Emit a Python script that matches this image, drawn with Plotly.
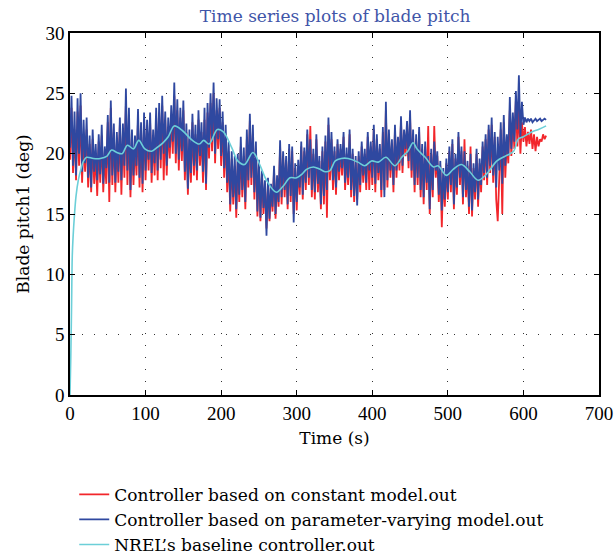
import plotly.graph_objects as go

# ---- data ----
step_s = 2  # sampling step of the pitch series, seconds

pitch_constant = [
    19.5, 23.8, 18.4, 22.0, 17.8, 23.5, 19.0, 24.0, 17.6, 21.5,
    18.5, 22.0, 17.2, 20.8, 16.8, 21.2, 17.5, 20.0, 16.5, 21.0,
    17.6, 21.5, 16.8, 19.8, 17.5, 22.6, 16.0, 23.8, 17.4, 21.8,
    16.8, 21.0, 17.6, 22.4, 16.6, 21.8, 18.0, 24.2, 17.4, 22.6,
    16.4, 21.2, 17.4, 20.8, 18.2, 22.8, 17.2, 21.8, 16.8, 22.6,
    17.8, 22.0, 18.6, 22.6, 17.6, 21.4, 18.2, 23.0, 17.8, 23.4,
    18.8, 24.0, 17.8, 22.8, 18.2, 22.2, 19.6, 23.2, 20.0, 24.8,
    19.2, 23.6, 18.6, 23.0, 19.4, 23.6, 17.8, 21.8, 16.6, 21.2,
    17.6, 22.6, 18.2, 21.6, 17.8, 22.8, 19.0, 21.8, 17.6, 22.8,
    17.0, 23.4, 19.6, 24.2, 20.2, 25.0, 19.2, 23.6, 20.4, 23.8,
    19.0, 22.6, 18.0, 21.6, 16.8, 20.2, 15.2, 19.6, 15.8, 19.0,
    14.7, 19.4, 16.0, 20.6, 16.4, 19.8, 15.4, 21.2, 17.2, 22.7,
    17.4, 21.6, 16.2, 20.4, 14.8, 19.0, 14.4, 18.2, 15.0, 17.4,
    13.8, 17.6, 14.4, 17.0, 15.2, 18.6, 14.6, 17.8, 15.6, 20.6,
    15.8, 19.8, 16.4, 19.4, 15.4, 20.4, 16.0, 20.2, 15.0, 18.8,
    15.3, 19.0, 16.6, 20.6, 16.2, 20.2, 17.0, 21.6, 17.4, 22.3,
    16.4, 20.0, 16.2, 21.2, 16.8, 19.4, 15.4, 20.2, 15.8, 21.0,
    14.7, 22.4, 17.8, 21.2, 17.0, 20.2, 16.6, 20.8, 17.8, 20.4,
    18.2, 21.4, 17.0, 20.0, 17.4, 21.6, 16.4, 20.0, 16.0, 19.4,
    16.2, 19.8, 16.8, 20.6, 17.6, 20.0, 17.0, 21.4, 17.0, 20.6,
    17.4, 22.0, 16.8, 21.2, 17.8, 20.4, 16.4, 21.8, 17.0, 23.6,
    17.2, 21.6, 18.0, 20.8, 16.8, 22.0, 18.0, 21.0, 18.6, 22.6,
    18.4, 21.6, 19.8, 22.2, 18.8, 23.0, 18.0, 21.6, 16.8, 21.2,
    17.4, 21.8, 16.4, 20.4, 15.8, 20.6, 17.0, 22.3, 15.0, 20.0,
    16.4, 22.3, 18.0, 19.8, 16.0, 19.0, 13.9, 18.4, 15.6, 19.2,
    16.2, 20.2, 16.8, 20.8, 15.4, 19.6, 16.6, 21.4, 17.4, 20.2,
    15.8, 21.2, 16.4, 19.0, 15.0, 20.6, 14.8, 18.8, 16.2, 20.0,
    15.6, 19.2, 16.8, 20.6, 17.8, 21.2, 17.4, 22.0, 18.4, 22.4,
    17.6, 21.4, 16.2, 14.4, 18.0, 22.0, 15.0, 22.6, 18.0, 21.0,
    19.2, 23.6, 19.8, 22.8, 20.4, 24.4, 20.6, 23.8, 20.0, 22.6,
    21.0, 22.2, 20.6, 21.8, 20.8, 22.0, 20.4, 21.6, 20.2, 21.4,
    20.6, 21.2, 21.0, 21.6, 21.2, 21.5,
]

pitch_varying = [
    20.5, 24.8, 19.0, 23.5, 18.2, 24.6, 20.0, 25.0, 18.5, 22.8,
    19.2, 23.0, 18.0, 21.5, 17.2, 22.0, 18.5, 20.8, 17.8, 21.6,
    18.3, 22.4, 17.5, 20.6, 18.8, 23.2, 17.6, 24.4, 18.2, 22.5,
    17.6, 21.8, 18.5, 23.0, 17.8, 22.5, 19.0, 25.4, 18.6, 23.8,
    17.0, 22.0, 18.2, 21.5, 19.0, 23.7, 18.0, 22.6, 17.5, 23.4,
    18.6, 22.8, 19.5, 23.4, 18.4, 22.0, 19.2, 23.8, 18.6, 24.2,
    19.5, 24.8, 20.0, 23.5, 19.0, 23.0, 20.5, 24.0, 21.0, 25.9,
    20.0, 24.5, 19.5, 23.8, 20.2, 24.4, 18.5, 22.5, 17.1, 22.0,
    18.4, 23.3, 19.0, 22.4, 18.6, 23.6, 19.8, 22.6, 18.5, 23.8,
    17.5, 24.2, 20.5, 25.0, 21.0, 25.9, 20.0, 24.6, 21.2, 24.5,
    19.8, 23.5, 18.8, 22.4, 17.6, 21.0, 15.8, 20.2, 16.4, 19.8,
    15.4, 20.0, 16.6, 21.4, 17.0, 20.5, 16.0, 22.0, 17.8, 23.3,
    18.0, 22.4, 16.8, 21.0, 15.2, 19.5, 14.7, 18.6, 15.5, 17.8,
    13.2, 18.0, 14.6, 17.5, 15.6, 19.0, 15.0, 18.2, 16.0, 21.1,
    16.4, 20.2, 17.0, 19.8, 15.8, 20.8, 16.5, 20.6, 14.3, 19.2,
    16.0, 19.5, 17.2, 21.0, 16.6, 20.5, 17.6, 22.0, 18.0, 21.2,
    17.0, 20.4, 16.8, 21.6, 17.5, 19.8, 15.8, 20.6, 16.5, 21.5,
    17.0, 23.0, 18.6, 21.8, 17.8, 20.6, 17.2, 21.2, 18.5, 20.8,
    18.8, 21.8, 17.6, 20.5, 18.0, 22.0, 17.0, 20.4, 16.5, 19.8,
    15.7, 20.2, 17.4, 21.0, 18.2, 20.4, 17.6, 21.8, 18.6, 21.0,
    18.0, 22.4, 17.5, 21.6, 18.4, 20.8, 17.0, 22.2, 16.4, 24.3,
    17.8, 22.0, 18.6, 21.2, 17.4, 22.4, 18.6, 21.4, 19.2, 23.1,
    19.0, 22.0, 20.4, 22.7, 19.4, 23.6, 18.6, 22.0, 17.4, 21.6,
    18.0, 22.2, 17.0, 20.8, 16.4, 21.0, 17.6, 19.8, 15.4, 20.4,
    17.0, 21.0, 18.6, 20.2, 16.6, 19.4, 15.3, 18.8, 16.2, 19.6,
    16.8, 20.6, 17.4, 21.2, 15.8, 20.0, 17.2, 21.8, 18.0, 20.6,
    16.4, 20.2, 17.0, 19.4, 15.6, 20.0, 15.3, 19.2, 16.8, 20.4,
    16.2, 19.6, 17.4, 21.0, 18.4, 21.6, 18.0, 22.4, 19.0, 23.0,
    18.2, 21.8, 17.2, 21.4, 18.6, 22.6, 17.5, 23.2, 19.0, 21.6,
    19.8, 24.7, 20.4, 23.4, 21.0, 25.2, 22.0, 26.5, 21.4, 24.3,
    22.4, 23.0, 22.6, 22.9, 22.7, 22.9, 22.6, 22.8, 22.9, 22.7,
    22.8, 22.9, 22.7, 22.8, 22.9, 22.8,
]

baseline_t = [0, 1, 2, 3, 4, 6, 8, 11, 14, 18, 22, 31, 40, 49, 55, 62, 69, 76, 84, 91,
              99, 108, 115, 123, 130, 138, 149, 162, 171, 177, 184, 195, 203, 214, 222,
              231, 242, 251, 260, 273, 282, 291, 300, 307, 313, 322, 331, 338, 344, 351,
              359, 368, 381, 390, 399, 408, 418, 430, 439, 447, 454, 459, 470, 481, 487,
              498, 507, 518, 529, 540, 551, 565, 576, 587, 593, 600, 611, 620, 630]
baseline_v = [0, 3, 7, 11.5, 13, 15, 16.5, 17.8, 18.6, 19.4, 19.7, 19.6, 19.6, 19.8, 20.3,
              20.1, 20.0, 20.7, 20.4, 21.1, 20.4, 20.2, 20.5, 20.9, 21.4, 22.3, 21.9, 21.1,
              20.8, 21.1, 20.8, 22.0, 21.8, 20.5, 19.4, 19.1, 20.1, 19.1, 17.8, 16.8, 17.3,
              18.0, 18.0, 18.3, 18.7, 18.9, 18.7, 18.5, 18.6, 19.4, 19.6, 19.6, 19.3, 19.0,
              19.4, 19.3, 19.7, 19.0, 19.7, 20.2, 20.9, 20.4, 19.7, 18.9, 19.0, 18.2, 18.7,
              19.1, 18.5, 17.8, 18.3, 19.4, 19.8, 20.2, 21.2, 21.4, 21.8, 22.0, 22.3]

x_ticks = [0, 100, 200, 300, 400, 500, 600, 700]
y_ticks = [0, 5, 10, 15, 20, 25, 30]

names = ["Controller based on constant model.out",
         "Controller based on parameter-varying model.out",
         "NREL\u2019s baseline controller.out"]

t_constant = [i * step_s for i in range(len(pitch_constant))]
t_varying = [i * step_s for i in range(len(pitch_varying))]

TICKFONT = "Liberation Serif"
TEXTFONT = "DejaVu Serif"

fig = go.Figure()
fig.add_trace(go.Scatter(x=t_constant, y=pitch_constant, mode="lines", name=names[0],
                         line=dict(color="#F2262B", width=1.8)))
fig.add_trace(go.Scatter(x=t_varying, y=pitch_varying, mode="lines", name=names[1],
                         line=dict(color="#2F48A0", width=1.8)))
fig.add_trace(go.Scatter(x=baseline_t, y=baseline_v, mode="lines", name=names[2],
                         line=dict(color="#6CCFD8", width=1.6, shape="spline")))

axis_common = dict(
    showline=True, linecolor="black", linewidth=1.5, mirror="ticks",
    ticks="inside", ticklen=5, tickcolor="black", tickwidth=1,
    showgrid=True, gridcolor="#333333", gridwidth=1, griddash="1px,11px",
    zeroline=False, tickfont=dict(family=TICKFONT, size=19, color="black"),
)

fig.update_layout(
    width=615, height=558,
    margin=dict(l=70, r=16, t=33, b=163, autoexpand=False),
    paper_bgcolor="white", plot_bgcolor="white",
    font=dict(family=TEXTFONT, color="black", size=17),
    title=dict(text="Time series plots of blade pitch", x=0.545, xanchor="center",
               y=0.972, yanchor="middle",
               font=dict(family=TEXTFONT, size=17, color="#3F55A8")),
    xaxis=dict(range=[0, 700], tickvals=x_ticks,
               title=dict(text="Time (s)", font=dict(family=TEXTFONT, size=17), standoff=10),
               **axis_common),
    yaxis=dict(range=[0, 30], tickvals=y_ticks,
               title=dict(text="Blade pitch1 (deg)", font=dict(family=TEXTFONT, size=17), standoff=12),
               **axis_common),
    legend=dict(orientation="v", x=0.008, xanchor="left", y=-0.226, yanchor="top",
                font=dict(family=TEXTFONT, size=17, color="black"),
                bgcolor="rgba(0,0,0,0)", tracegroupgap=0, itemwidth=30),
    showlegend=True,
)

fig.write_html("out.html")
